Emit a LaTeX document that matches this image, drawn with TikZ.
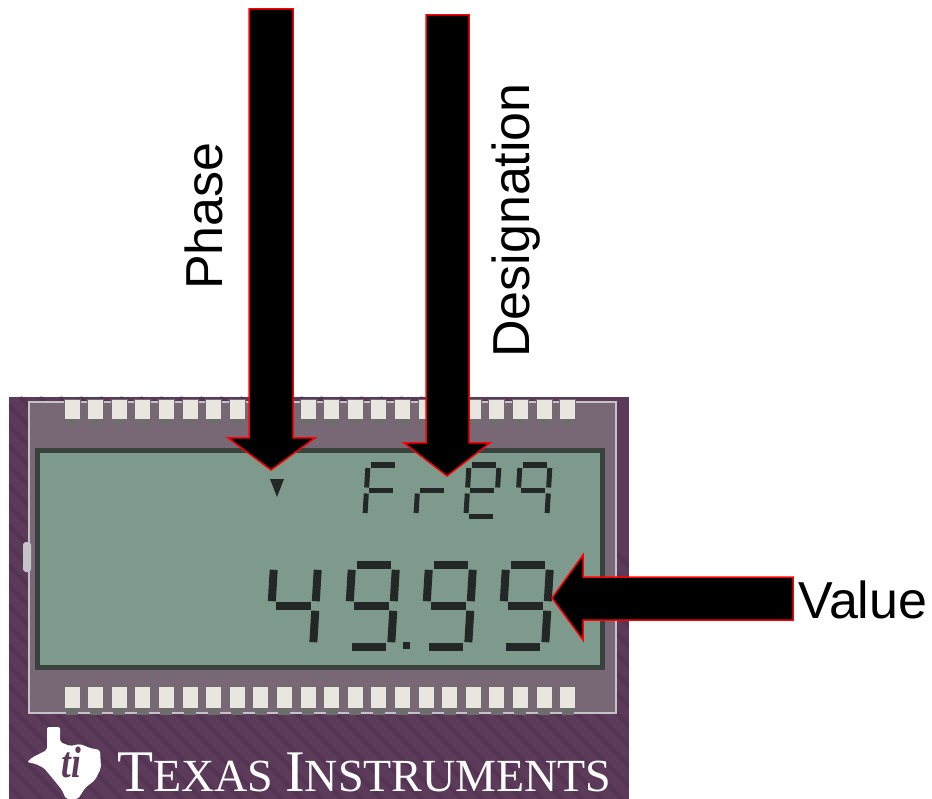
\documentclass[tikz,border=0pt]{standalone}
\usepackage{fontspec}
\setmainfont{Liberation Sans}
\newfontfamily\tifont{Liberation Serif}

\definecolor{board}{RGB}{92,58,90}
\definecolor{boardtrace}{RGB}{70,42,70}
\definecolor{glass}{RGB}{120,104,118}
\definecolor{glassedge}{RGB}{196,196,200}
\definecolor{lcdgreen}{RGB}{126,154,140}
\definecolor{lcdrim}{RGB}{58,66,62}
\definecolor{lcdink}{RGB}{35,40,38}
\definecolor{pinwhite}{RGB}{232,230,222}
\definecolor{pinshade}{RGB}{110,108,108}

\tikzset{
  lcdseg/.style={draw=lcdink,line cap=butt},
  lcd a/.style={insert path={(\lcdgap,0) -- (\lcdw-\lcdgap,0)}},
  lcd b/.style={insert path={(\lcdw,\lcdgap) -- (\lcdw,\lcdh/2-\lcdgap)}},
  lcd c/.style={insert path={(\lcdw,\lcdh/2+\lcdgap) -- (\lcdw,\lcdh-\lcdgap)}},
  lcd d/.style={insert path={(\lcdgap,\lcdh) -- (\lcdw-\lcdgap,\lcdh)}},
  lcd e/.style={insert path={(0,\lcdh/2+\lcdgap) -- (0,\lcdh-\lcdgap)}},
  lcd f/.style={insert path={(0,\lcdgap) -- (0,\lcdh/2-\lcdgap)}},
  lcd g/.style={insert path={(\lcdgap,\lcdh/2) -- (\lcdw-\lcdgap,\lcdh/2)}}
}

% seven segment digit: x, y (top left), width, height, stroke, segments
\newcommand{\lcddigit}[6]{%
  \begin{scope}[shift={(#1,#2)},xslant=0.06,line width=#5pt]
    \def\lcdw{#3}\def\lcdh{#4}\def\lcdgap{#5*0.6}
    \foreach \s in {#6} {\draw[lcdseg,lcd \s];}
  \end{scope}}

\begin{document}
\begin{tikzpicture}[x=1pt,y=-1pt,
    callout/.style={font=\fontsize{52}{52}\selectfont,inner sep=0pt},
    blockarrow/.style={fill=black,draw=red,line width=1.5pt,line join=miter},
    pin/.style={fill=pinwhite,draw=pinshade,line width=0.8pt},
    foot/.style={fill=pinshade},
    tiletter/.style={font=\tifont\fontsize{46}{46}\selectfont,text=white,inner sep=0pt}]
    \useasboundingbox (0,0) rectangle (932,799);
    \fill[white] (0,0) rectangle (932,799);

    % board
    \fill[board] (9,397) rectangle (629,799);
    \begin{scope}
        \clip (9,397) rectangle (629,799);
        \foreach \i in {0,...,44}
            \draw[boardtrace,line width=4pt,opacity=0.35] ({\i*20-420},397) -- ++(402,402);
    \end{scope}

    % glass and pins
    \filldraw[fill=glass,draw=glassedge,line width=2pt] (29,402) rectangle (616,713);
    \fill[glassedge,rounded corners=3pt] (23,542) rectangle (31,572);
    \foreach \i in {0,...,21} {
        \fill[foot] ({66+23.6*\i},418) rectangle ++(12,7);
        \filldraw[pin] ({64+23.6*\i},399) rectangle ++(16,20);
        \fill[foot] ({66+23.6*\i},708) rectangle ++(12,7);
        \filldraw[pin] ({64+23.6*\i},686) rectangle ++(16,22);
    }
    \filldraw[fill=lcdgreen,draw=lcdrim,line width=5pt] (37.5,450.5) rectangle (602.5,667);

    % display contents
    \fill[lcdink] (270,479) -- (284,479) -- (277,497) -- cycle;
    \lcddigit{368}{465}{30}{51}{5}{a,f,g,e}
    \lcddigit{419}{465}{30}{51}{5}{e,g}
    \lcddigit{469}{465}{30}{51}{5}{a,b,d,e,f,g}
    \lcddigit{520}{465}{30}{51}{5}{a,b,c,f,g}
    \lcddigit{274}{565}{44}{82}{8}{f,b,g,c}
    \lcddigit{352}{565}{44}{82}{8}{a,b,c,d,f,g}
    \lcddigit{429}{565}{44}{82}{8}{a,b,c,d,f,g}
    \lcddigit{506}{565}{44}{82}{8}{a,b,c,d,f,g}
    \fill[lcdink] (403,642) rectangle (410,649);

    % logo
    \fill[white,rounded corners=2pt] (47,727) -- (60,727) -- (60,742) -- (70,746) -- (80,744)
        -- (90,748) -- (100,750) -- (101,768) -- (95,780) -- (85,788) -- (78,799) -- (66,799)
        -- (62,790) -- (54,780) -- (44,768) -- (36,764) -- (27,762) -- (33,757) -- (47,750) -- cycle;
    \node[font=\tifont\bfseries\itshape\fontsize{44}{44}\selectfont,text=board,inner sep=0pt,
        anchor=base,xscale=0.8] (ti mark) at (71,777) {ti};
    \node[tiletter,anchor=base west] (ti texas) at (117,791) {{\fontsize{59}{59}\selectfont T}EXAS};
    \node[tiletter,anchor=base west] (ti instruments) at (285,791) {{\fontsize{59}{59}\selectfont I}NSTRUMENTS};

    % arrows and labels
    \coordinate (phase tip) at (271,470);
    \coordinate (designation tip) at (447,476);
    \coordinate (value tip) at (552,598);
    \draw[blockarrow] (249,9) -- (293,9) -- (293,438) -- (315,438) -- (phase tip)
        -- (228,438) -- (249,438) -- cycle;
    \draw[blockarrow] (426,15) -- (469,15) -- (469,443) -- (490,443) -- (designation tip)
        -- (404,443) -- (426,443) -- cycle;
    \draw[blockarrow] (793,577) -- (793,620) -- (583,620) -- (583,640) -- (value tip)
        -- (583,555) -- (583,577) -- cycle;

    \node[callout,rotate=90,anchor=base west] (phase) at (222,290) {Phase};
    \node[callout,rotate=90,anchor=base west] (designation) at (529,358) {Designation};
    \node[callout,anchor=base west] (value) at (798,618) {Value};
\end{tikzpicture}
\end{document}
